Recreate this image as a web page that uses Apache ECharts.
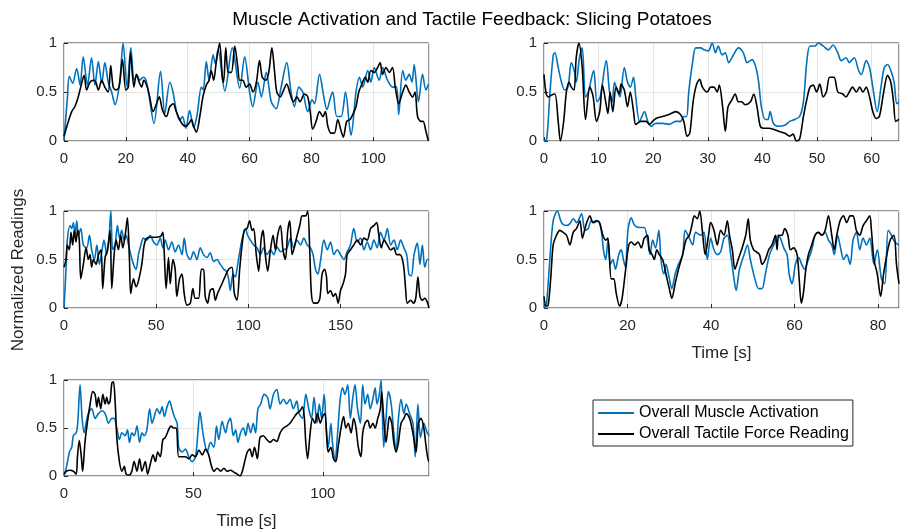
<!DOCTYPE html>
<html>
<head>
<meta charset="utf-8">
<script src="https://cdn.jsdelivr.net/npm/echarts@6/dist/echarts.min.js"></script>
<style>
  html, body { margin: 0; padding: 0; background: #fff; }
  #chart { width: 901px; height: 531px; }
</style>
</head>
<body>
<div id="chart"></div>
<script>
const muscleName = 'Overall Muscle Activation'
const forceName = 'Overall Tactile Force Reading'
const yTicks = [0, 0.5, 1]
const trialXMax = [118, 65, 198, 85, 141]
const trialXStep = [20, 10, 50, 20, 50]

// [time s, normalized value]
const trial1Muscle = [[0,0.01],[1.1,0.44],[1.7,0.66],[2.8,0.59],[4.1,0.74],[5.2,0.57],[6.2,0.86],[7.6,0.57],[8.9,0.85],[10,0.57],[11.1,0.81],[12.2,0.59],[13.2,0.8],[14.3,0.6],[15.4,0.5],[16.5,0.37],[18,0.6],[19.1,1.0],[20.4,0.55],[21.6,0.95],[22.7,0.62],[23.7,0.67],[24.5,0.62],[25.6,0.65],[26.5,0.62],[27.2,0.52],[29.1,0.18],[31.2,0.71],[32.6,0.28],[34.2,0.6],[35.3,0.49],[36.3,0.31],[37.4,0.21],[38.3,0.25],[39.4,0.13],[40.6,0.31],[41.9,0.14],[43,0.26],[44.4,0.55],[45,0.52],[46,0.81],[46.9,0.62],[48.2,0.88],[48.9,0.79],[49.8,0.93],[52,0.51],[54.4,0.95],[56.8,0.54],[58.4,0.86],[60,0.5],[61,0.35],[62.7,0.6],[63.8,0.45],[65.4,0.7],[67,0.4],[68.6,0.33],[70.2,0.55],[72,0.8],[73.4,0.5],[74.5,0.35],[75.9,0.55],[77.2,0.5],[78.8,0.3],[80.2,0.42],[81,0.38],[82.6,0.68],[84,0.45],[85,0.32],[86.2,0.45],[86.9,0.5],[88.2,0.25],[89.6,0.25],[91,0.5],[92.3,0.15],[92.8,0.06],[94.4,0.5],[95.5,0.65],[96.6,0.55],[98.2,0.72],[99.2,0.6],[100.3,0.75],[101.9,0.62],[103,0.75],[104.6,0.62],[106.2,0.55],[107.5,0.55],[108.2,0.27],[109.5,0.72],[110.5,0.62],[111.6,0.68],[112.5,0.6],[113.2,0.78],[114.6,0.4],[115.9,0.68],[117,0.52],[117.8,0.58]]
const trial1Force = [[0,0.05],[1.4,0.2],[2.5,0.3],[3.5,0.35],[4.6,0.45],[5.4,0.55],[6.5,0.67],[7.3,0.52],[8.4,0.6],[9.5,0.62],[10.3,0.6],[11.1,0.52],[12.2,0.62],[13.2,0.55],[14.3,0.5],[15.1,0.77],[15.9,0.55],[16.8,0.52],[17.8,0.55],[18.9,0.83],[20,0.52],[20.8,0.55],[21.5,0.9],[22.6,0.55],[23.4,0.68],[24.3,0.6],[25.1,0.55],[25.8,0.62],[26.9,0.55],[27.7,0.45],[28.8,0.3],[29.9,0.38],[30.8,0.45],[31.8,0.32],[33.1,0.25],[34.2,0.35],[35.3,0.38],[36.3,0.3],[37.4,0.22],[38.3,0.17],[39.4,0.15],[40.4,0.18],[41.2,0.22],[41.9,0.15],[42.8,0.09],[43.9,0.25],[44.9,0.45],[46,0.57],[46.9,0.62],[47.6,0.72],[48.4,0.62],[49.2,0.8],[50.3,1.0],[51.2,0.65],[51.6,0.6],[52.3,0.95],[53.1,0.7],[54.1,0.7],[55.2,0.97],[56.2,0.75],[56.8,0.62],[57.8,0.62],[58.9,0.55],[60,0.58],[61.1,0.5],[62.2,0.6],[63.2,0.82],[64.1,0.65],[65.2,0.62],[66.2,0.7],[67.2,0.95],[68.1,0.7],[68.8,0.5],[69.9,0.45],[71,0.52],[72,0.58],[73.1,0.48],[74.2,0.4],[75.3,0.45],[76.3,0.4],[77.7,0.48],[78.8,0.45],[79.6,0.3],[80.4,0.12],[81.5,0.2],[82.6,0.3],[83.7,0.25],[84.5,0.3],[85.3,0.15],[86.3,0.08],[87.4,0.08],[88.5,0.22],[89.6,0.1],[90.3,0.04],[91.4,0.2],[92.5,0.22],[93.5,0.28],[94.4,0.35],[95.3,0.5],[96.3,0.58],[97.4,0.65],[98.2,0.6],[99.2,0.72],[100.3,0.7],[101.4,0.75],[102.2,0.8],[103,0.68],[104.1,0.75],[105.2,0.7],[106.2,0.75],[107.1,0.55],[108.2,0.38],[109.5,0.5],[110.5,0.57],[111.6,0.5],[112.7,0.45],[113.5,0.5],[114.3,0.25],[115.4,0.2],[116.1,0.2],[117,0.1],[117.8,0.0]]

const trial2Muscle = [[0,0],[0.5,0.02],[1.1,0.5],[1.7,0.88],[2,0.9],[2.6,0.75],[3.2,0.6],[3.8,0.52],[4.4,0.55],[5,0.8],[5.6,0.7],[5.9,0.6],[6.5,0.85],[7,0.95],[7.6,0.45],[8.1,0.5],[9.1,0.72],[9.7,0.4],[10.3,0.45],[11.4,0.82],[12,0.5],[12.5,0.4],[12.9,0.6],[13.5,0.5],[13.9,0.45],[14.7,0.75],[15.3,0.6],[15.8,0.55],[16.4,0.65],[16.8,0.45],[17.5,0.2],[18.4,0.3],[19,0.2],[19.6,0.15],[20.5,0.18],[21.7,0.18],[22.9,0.17],[24.1,0.2],[25,0.2],[25.6,0.25],[26.1,0.25],[26.5,0.5],[27.2,0.8],[27.8,0.95],[28.7,0.95],[29.3,0.93],[30.1,0.92],[30.8,1.0],[31.4,0.9],[31.9,0.97],[32.6,0.88],[33.2,0.9],[33.8,0.8],[34.7,0.88],[35.6,0.95],[36.5,0.9],[37.2,0.8],[38.1,0.83],[38.8,0.75],[39.3,0.6],[39.8,0.35],[40.5,0.22],[41,0.22],[41.4,0.3],[42,0.18],[42.9,0.15],[44.1,0.16],[45,0.2],[45.9,0.22],[46.8,0.25],[47.5,0.4],[48.1,0.8],[48.7,0.97],[49.6,0.97],[50.2,1.0],[51.1,0.97],[52.1,0.93],[52.9,0.98],[53.8,0.9],[54.4,0.82],[55.3,0.85],[55.9,0.8],[56.8,0.85],[57.6,0.72],[58.1,0.68],[59,0.82],[59.6,0.75],[60.2,0.55],[61,0.3],[61.7,0.55],[62.3,0.75],[62.9,0.78],[63.5,0.72],[64.1,0.6],[64.6,0.38],[65,0.4]]
const trial2Force = [[0,0.68],[0.4,0.48],[0.8,0.45],[1.4,0.47],[2,0.48],[2.6,0.2],[3,0.0],[3.6,0.2],[4.1,0.5],[4.6,0.6],[5,0.55],[5.5,0.52],[5.9,0.85],[6.4,1.0],[7,0.75],[7.6,0.22],[8.4,0.55],[9,0.45],[9.6,0.2],[10.2,0.3],[10.7,0.57],[11.3,0.4],[11.7,0.28],[12.1,0.5],[12.6,0.3],[13.2,0.55],[13.8,0.48],[14.1,0.58],[14.7,0.52],[15.3,0.35],[15.8,0.5],[16.4,0.3],[16.8,0.17],[17.7,0.2],[18.7,0.2],[19.3,0.17],[19.9,0.2],[20.5,0.23],[21.7,0.25],[22.9,0.27],[24.1,0.3],[25,0.27],[25.6,0.2],[26.2,0.05],[26.7,0.08],[27.3,0.4],[27.9,0.57],[28.5,0.63],[29,0.55],[29.9,0.5],[30.5,0.55],[31.1,0.55],[31.7,0.5],[32.1,0.57],[32.7,0.35],[33.2,0.1],[33.7,0.35],[34.4,0.42],[35,0.48],[35.6,0.4],[36.2,0.4],[36.8,0.37],[37.8,0.4],[38.4,0.48],[39,0.35],[39.6,0.15],[40.2,0.13],[41.1,0.13],[42,0.12],[42.9,0.1],[44.1,0.08],[45,0.05],[45.6,0.07],[46.2,0.0],[46.8,0.02],[47.5,0.25],[48.1,0.42],[48.7,0.55],[49.3,0.57],[49.9,0.5],[50.5,0.58],[51.1,0.45],[51.7,0.5],[52.3,0.65],[53.1,0.65],[53.8,0.5],[54.7,0.48],[55.3,0.45],[55.9,0.5],[56.5,0.55],[57.2,0.5],[57.8,0.55],[58.4,0.5],[59,0.55],[59.6,0.45],[60.2,0.3],[60.8,0.23],[61.4,0.25],[62.2,0.5],[62.9,0.67],[63.5,0.6],[64,0.4],[64.4,0.2],[65,0.22]]

const trial3Muscle = [[0,0],[1.1,0.4],[1.8,0.7],[3.3,0.85],[4.2,0.82],[5.1,0.88],[6,0.75],[6.9,0.9],[7.8,0.75],[9.1,0.82],[10.5,0.65],[12.3,0.62],[13.8,0.75],[15,0.6],[16.5,0.5],[17.8,0.65],[19.2,0.45],[20.5,0.58],[21.7,0.7],[23.2,0.55],[24.5,0.75],[25.4,1.0],[26.4,0.6],[27.7,0.65],[29,0.85],[30.1,0.72],[31.3,0.8],[32.6,0.7],[33.7,0.75],[35,0.65],[36.2,0.55],[37.7,0.45],[39.1,0.4],[40.4,0.55],[41.7,0.65],[43.1,0.72],[44.9,0.7],[46.7,0.75],[48.6,0.68],[50.4,0.65],[52.2,0.72],[53.6,0.62],[54.9,0.7],[56.7,0.6],[58.5,0.68],[60.3,0.58],[62.1,0.65],[64,0.55],[65.2,0.72],[66.7,0.55],[68.5,0.5],[70.3,0.58],[72.1,0.5],[73.9,0.62],[75.7,0.55],[77.5,0.52],[79.3,0.57],[81.2,0.48],[83,0.5],[84.8,0.45],[86.6,0.4],[88,0.38],[89.3,0.3],[90.2,0.18],[91.7,0.35],[92.9,0.32],[93.8,0.4],[95.7,0.62],[97.1,0.75],[98.4,0.82],[99.6,0.75],[101.1,0.7],[102.9,0.65],[104.7,0.62],[106.5,0.55],[108.3,0.62],[110.1,0.55],[112,0.6],[113.8,0.55],[115.6,0.63],[117.4,0.58],[119.2,0.6],[121,0.62],[122.8,0.72],[124.6,0.62],[126.4,0.7],[128.3,0.65],[130.1,0.72],[131.9,0.65],[133.7,0.62],[135.1,0.55],[136.4,0.4],[137.7,0.35],[139.1,0.48],[141,0.7],[142.8,0.6],[144.6,0.68],[146.4,0.55],[148.2,0.6],[150,0.55],[151.8,0.5],[153.6,0.58],[155.4,0.65],[157.2,0.82],[159.1,0.68],[160.9,0.72],[162.7,0.6],[164.5,0.68],[166.3,0.6],[168.1,0.7],[169.9,0.62],[171.7,0.78],[173.6,0.7],[175.4,0.82],[177.2,0.65],[179,0.7],[180.8,0.6],[182.6,0.7],[184.4,0.62],[185.9,0.55],[187.1,0.35],[188.4,0.33],[189.9,0.55],[191.7,0.67],[193.1,0.45],[194.4,0.65],[195.7,0.42],[197.1,0.5],[198,0.5]]
const trial3Force = [[0,0.42],[1.1,0.5],[1.8,0.65],[2.9,0.6],[3.8,0.78],[4.7,0.65],[5.6,0.8],[6.5,0.68],[7.4,0.8],[8.3,0.7],[9.1,0.3],[10.5,0.45],[12,0.62],[13.2,0.5],[14.1,0.55],[15,0.42],[15.9,0.5],[17.4,0.45],[18.7,0.55],[20.1,0.6],[21,0.2],[22.3,0.52],[23.6,0.6],[25,0.8],[25.9,0.2],[27.2,0.55],[28.3,0.7],[29.5,0.6],[30.8,0.75],[31.9,0.62],[33.2,0.75],[34.4,0.93],[35.5,0.5],[36.2,0.15],[37.7,0.3],[39.1,0.22],[40.4,0.28],[42.2,0.45],[43.5,0.65],[44.9,0.72],[47.6,0.73],[50.4,0.73],[52.5,0.74],[53.6,0.78],[54.3,0.6],[55.4,0.2],[56.7,0.52],[57.6,0.25],[59.1,0.5],[60.3,0.4],[61.2,0.12],[62.7,0.3],[64,0.35],[65.2,0.15],[66.7,0.03],[68.5,0.05],[69.9,0.2],[71.2,0.1],[73,0.1],[74.5,0.4],[75.7,0.4],[76.6,0.12],[77.9,0.05],[79.3,0.18],[80.8,0.2],[82.1,0.08],[83.3,0.15],[85.7,0.25],[87.5,0.33],[89.3,0.4],[91.1,0.42],[92.4,0.15],[93.8,0.08],[95.3,0.4],[96.6,0.65],[97.8,0.8],[99.3,0.82],[100.7,0.9],[102,0.8],[102.9,0.82],[104.3,0.55],[105.6,0.38],[106.9,0.7],[108,0.8],[109.2,0.55],[110.5,0.38],[112,0.6],[113.4,0.75],[114.7,0.6],[115.9,0.75],[117.4,0.85],[118.8,0.6],[120.1,0.5],[121.4,0.8],[122.5,0.9],[123.7,0.55],[124.6,0.6],[126.1,0.72],[127.9,0.85],[129.2,0.95],[131,0.95],[132.2,1.0],[133.3,0.6],[134.2,0.15],[135.5,0.05],[137.3,0.05],[138.8,0.1],[140,0.35],[141.3,0.4],[142.4,0.32],[143.1,0.15],[144.6,0.18],[146,0.12],[147.3,0.15],[148.7,0.05],[150,0.18],[151.4,0.25],[152.7,0.35],[153.6,0.55],[155.4,0.6],[157.2,0.65],[159.1,0.7],[160.9,0.65],[162.7,0.72],[164.5,0.7],[166.3,0.82],[168.1,0.85],[169.6,0.88],[170.8,0.75],[172.1,0.62],[173.6,0.7],[175.4,0.65],[177.2,0.6],[179,0.62],[180.4,0.55],[182.2,0.55],[184.1,0.45],[185.3,0.2],[186.2,0.05],[188.1,0.08],[189.5,0.05],[190.8,0.1],[192,0.32],[193.1,0.12],[194.4,0.08],[195.7,0.1],[197.1,0.06],[198,0.0]]

const trial4Muscle = [[0,0],[0.6,0.05],[1.4,0.5],[2.2,0.9],[3.2,1.0],[4.2,0.88],[5.4,0.85],[6.2,0.87],[7,0.92],[7.8,0.88],[9,0.97],[9.8,0.8],[10.6,0.82],[11.3,0.9],[12.1,0.88],[12.9,0.9],[13.7,0.8],[14.3,0.58],[14.8,0.5],[15.3,0.7],[15.9,0.45],[16.5,0.5],[17.1,0.4],[17.9,0.55],[18.5,0.6],[19,0.5],[19.5,0.42],[20.1,0.8],[20.9,0.93],[21.7,0.85],[22.9,0.83],[24,0.83],[24.8,0.7],[25.4,0.55],[26,0.7],[26.7,0.62],[27.5,0.8],[28,0.5],[28.7,0.35],[29.2,0.45],[29.8,0.35],[30.6,0.2],[31.4,0.35],[32.2,0.45],[33.2,0.55],[33.8,0.8],[34.8,0.72],[35.6,0.65],[36.3,0.78],[37.5,0.75],[38.3,0.78],[39.1,0.5],[39.9,0.72],[40.7,0.6],[41.5,0.55],[42.3,0.58],[43.1,0.72],[43.9,0.75],[44.7,0.55],[45.5,0.3],[46,0.18],[46.8,0.4],[47.9,0.55],[48.7,0.65],[49.4,0.5],[50.5,0.3],[51.4,0.2],[52.2,0.2],[53,0.35],[54,0.55],[55,0.65],[56,0.75],[56.6,0.72],[57.4,0.62],[58.2,0.55],[58.7,0.35],[59.4,0.25],[60.2,0.45],[61,0.52],[61.7,0.45],[62.4,0.4],[63.3,0.5],[64.1,0.6],[64.9,0.75],[65.7,0.78],[66.5,0.75],[67.3,0.78],[68.1,0.7],[68.9,0.65],[69.5,0.55],[70.3,0.75],[71.1,0.6],[71.7,0.5],[72.5,0.55],[73.3,0.45],[74,0.7],[74.8,0.78],[75.6,0.6],[76.4,0.72],[77.2,0.65],[78,0.72],[79,0.45],[79.8,0.6],[80.8,0.3],[81.6,0.25],[82.4,0.8],[83.2,0.75],[84,0.68],[85,0.65]]
const trial4Force = [[0,0.12],[0.5,0.02],[1,0.03],[1.6,0.3],[2.2,0.65],[3,0.75],[3.8,0.8],[4.6,0.78],[5.4,0.75],[6.2,0.65],[7,0.78],[7.8,0.82],[8.6,0.9],[9.2,0.72],[10,0.85],[11,0.95],[11.7,0.88],[12.5,0.9],[13.3,0.88],[14.1,0.75],[14.8,0.7],[15.3,0.72],[16.1,0.3],[16.7,0.3],[17.3,0.15],[18.1,0.02],[18.7,0.1],[19.5,0.38],[20.3,0.65],[20.9,0.68],[21.7,0.65],[22.5,0.68],[23.3,0.62],[24,0.72],[24.8,0.75],[25.2,0.6],[25.9,0.55],[26.4,0.5],[27,0.6],[27.6,0.55],[28.4,0.5],[29.2,0.35],[30,0.2],[30.6,0.1],[31.4,0.25],[32.2,0.4],[33.2,0.55],[34,0.7],[34.8,0.75],[35.4,0.85],[36,0.95],[36.7,0.92],[37.3,1.0],[37.9,0.8],[38.6,0.55],[39.4,0.75],[39.9,0.88],[40.7,0.8],[41.5,0.65],[42.3,0.8],[43.1,0.75],[43.9,0.9],[44.4,0.75],[45.1,0.6],[45.7,0.4],[46.5,0.5],[47.3,0.6],[48.3,0.75],[48.9,0.92],[49.4,0.7],[50.2,0.6],[50.8,0.58],[51.6,0.55],[52.2,0.45],[53,0.5],[53.8,0.6],[54.6,0.65],[55.4,0.75],[55.8,0.6],[56.2,0.75],[57,0.75],[57.6,0.82],[58.4,0.75],[59,0.6],[59.8,0.62],[60.6,0.55],[61.1,0.3],[61.6,0.05],[62.1,0.15],[62.7,0.4],[63.3,0.55],[64.1,0.65],[64.9,0.75],[65.7,0.78],[66.5,0.75],[67.3,0.8],[68.1,0.95],[68.9,0.75],[69.5,0.6],[70.1,0.75],[70.9,0.9],[71.7,0.95],[72.5,0.88],[73.3,0.95],[74,0.95],[74.8,0.8],[75.6,0.75],[76.4,0.85],[77.2,0.9],[78,0.95],[78.4,0.8],[79,0.5],[79.8,0.35],[80.6,0.12],[81.3,0.35],[82.1,0.55],[82.9,0.7],[83.8,0.75],[84.4,0.45],[85,0.25]]

const trial5Muscle = [[0,0],[1,0.1],[2.1,0.25],[3,0.3],[3.6,0.42],[4.7,0.45],[5.3,0.55],[6.2,0.95],[7,0.6],[7.8,0.45],[8.5,0.55],[9.4,0.65],[10.7,0.7],[12,0.6],[13.3,0.65],[14.6,0.68],[15.9,0.65],[17.2,0.55],[18.5,0.6],[19.4,0.6],[20.4,0.5],[21.4,0.38],[22.4,0.45],[23.6,0.42],[24.5,0.48],[25.3,0.35],[26.2,0.45],[27.1,0.42],[28.2,0.52],[29.2,0.35],[30.1,0.45],[31,0.42],[32,0.48],[33.1,0.7],[34,0.55],[34.9,0.62],[35.9,0.7],[37,0.65],[37.9,0.72],[38.8,0.62],[39.8,0.72],[40.8,0.78],[41.7,0.7],[42.6,0.62],[43.7,0.55],[44.3,0.3],[45.6,0.25],[46.9,0.28],[48.2,0.2],[49.5,0.15],[50.8,0.2],[51.7,0.45],[52.5,0.67],[53.4,0.5],[54.3,0.35],[55.3,0.25],[56.6,0.35],[57.9,0.3],[58.9,0.52],[59.8,0.38],[61.1,0.57],[62.4,0.45],[63.3,0.55],[64.3,0.6],[65.4,0.42],[66.3,0.48],[67.2,0.35],[68.2,0.45],[69.3,0.5],[70.2,0.42],[71.1,0.55],[72.1,0.45],[73.1,0.55],[74,0.45],[74.9,0.7],[76,0.75],[77.3,0.85],[78.6,0.82],[79.6,0.7],[80.9,0.85],[82.2,0.9],[83.5,0.75],[84.8,0.8],[86,0.75],[87.3,0.8],[88.6,0.7],[89.9,0.78],[90.8,0.65],[92.1,0.6],[93.4,0.85],[94.7,0.68],[95.6,0.6],[96.6,0.82],[97.7,0.55],[98.6,0.75],[99.5,0.6],[100.5,0.85],[101.3,0.5],[102.1,0.3],[103.1,0.55],[103.7,0.35],[104.7,0.15],[105.7,0.45],[106.7,0.8],[107.6,0.92],[108.5,0.85],[109.6,0.95],[110.6,0.6],[111.5,0.8],[112.4,0.95],[113.4,0.7],[114.5,0.55],[115.4,0.95],[116.3,0.75],[117.3,0.85],[118.3,0.7],[119.3,0.8],[120.2,0.92],[120.9,0.75],[121.8,0.85],[122.5,1.0],[123.5,0.3],[124.4,0.6],[125.3,0.88],[126.4,0.75],[127.4,0.45],[128.3,0.25],[129.2,0.6],[130.2,0.8],[131.3,0.65],[132.2,0.75],[133.5,0.65],[134.8,0.55],[135.7,0.2],[136.7,0.75],[137.7,0.4],[139,0.55],[140.3,0.45],[141,0.42]]
const trial5Force = [[0,0.02],[1,0.05],[2.3,0.06],[3.6,0.05],[4.7,0.02],[5.2,0.2],[5.9,0.37],[6.7,0.2],[7.2,0.05],[8.1,0.35],[9,0.55],[10.1,0.75],[11.1,0.88],[12,0.85],[12.7,0.72],[13.3,0.82],[14.2,0.7],[15,0.85],[15.9,0.75],[16.5,0.82],[17.2,0.75],[17.8,0.78],[18.5,0.97],[19.1,0.98],[19.8,0.75],[20.4,0.4],[21.4,0.15],[22.4,0.05],[23.3,0.1],[24,0.02],[25.3,0.01],[26.2,0.05],[27.1,0.15],[28.2,0.05],[29.2,0.18],[30.1,0.05],[31.4,0.15],[32.3,0.02],[33.3,0.12],[34.4,0.22],[35.3,0.15],[36.2,0.25],[37.2,0.2],[38.2,0.38],[39.1,0.4],[40.4,0.48],[41.3,0.52],[42.4,0.5],[43.4,0.5],[44.3,0.2],[45.6,0.2],[46.9,0.2],[48.2,0.18],[49.5,0.22],[50.8,0.2],[52.1,0.27],[53.4,0.22],[54.7,0.28],[55.9,0.22],[56.8,0.12],[57.9,0.05],[59.2,0.08],[60.5,0.05],[61.8,0.08],[63,0.05],[64.3,0.06],[65.6,0.04],[66.9,0.02],[68,0.0],[68.9,0.05],[69.8,0.15],[70.8,0.25],[71.8,0.28],[72.7,0.2],[73.6,0.3],[74.7,0.18],[75.7,0.4],[77,0.42],[78.3,0.38],[79.6,0.35],[80.9,0.38],[82.2,0.36],[83.5,0.45],[84.8,0.5],[86,0.52],[87.3,0.55],[88.6,0.6],[89.9,0.65],[91.2,0.68],[92.1,0.72],[92.8,0.62],[93.4,0.35],[94.1,0.18],[95.1,0.45],[96,0.6],[96.9,0.55],[97.9,0.65],[99,0.55],[99.9,0.62],[100.8,0.65],[101.6,0.35],[102.1,0.25],[103.1,0.3],[104.1,0.18],[105,0.15],[105.9,0.3],[107,0.5],[108,0.62],[108.9,0.5],[109.8,0.55],[110.9,0.45],[111.9,0.6],[112.8,0.5],[113.7,0.3],[114.7,0.2],[115.4,0.45],[116.3,0.55],[117.3,0.58],[118.3,0.5],[119.3,0.55],[120.2,0.5],[121.2,0.6],[122.2,0.7],[122.7,0.88],[123.5,0.6],[124.4,0.35],[125.1,0.5],[125.7,0.62],[126.6,0.55],[127.4,0.35],[128.3,0.25],[129.2,0.35],[130.2,0.55],[131.3,0.6],[132.2,0.65],[133.5,0.6],[134.4,0.5],[135.1,0.4],[136,0.25],[136.9,0.55],[137.9,0.6],[139,0.5],[139.9,0.3],[140.9,0.15],[141,0.15]]

const trialMuscle = [trial1Muscle, trial2Muscle, trial3Muscle, trial4Muscle, trial5Muscle]
const trialForce = [trial1Force, trial2Force, trial3Force, trial4Force, trial5Force]

const font = '"Liberation Sans", Arial, Helvetica, sans-serif'
const ink = '#262626'
const boxes = [
  { left: 64, top: 43, width: 365, height: 98 },
  { left: 544, top: 43, width: 355, height: 98 },
  { left: 64, top: 211, width: 365, height: 97 },
  { left: 544, top: 211, width: 355, height: 97 },
  { left: 64, top: 380, width: 365, height: 97 },
]
const withTimeLabel = [3, 4]

const chart = echarts.init(document.getElementById('chart'), null, { renderer: 'canvas' })

const grid = boxes.map((b) => ({
  ...b,
  show: true,
  borderColor: ink,
  borderWidth: 1,
  backgroundColor: '#fff',
  containLabel: false,
}))

const xAxis = boxes.map((b, i) => ({
  type: 'value',
  gridIndex: i,
  min: 0,
  max: trialXMax[i],
  interval: trialXStep[i],
  name: withTimeLabel.includes(i) ? 'Time [s]' : '',
  nameLocation: 'middle',
  nameGap: 37,
  nameTextStyle: { fontFamily: font, fontSize: 17, color: ink },
  axisLine: { show: false },
  axisTick: { show: true, inside: true, length: 4, lineStyle: { color: ink } },
  axisLabel: { fontFamily: font, fontSize: 15, color: ink, margin: 10, showMaxLabel: false },
  splitLine: { show: true, lineStyle: { color: '#e4e4e4', width: 1 } },
}))

const yAxis = boxes.map((b, i) => ({
  type: 'value',
  gridIndex: i,
  min: yTicks[0],
  max: yTicks[yTicks.length - 1],
  interval: yTicks[1] - yTicks[0],
  axisLine: { show: false },
  axisTick: { show: true, inside: true, length: 4, lineStyle: { color: ink } },
  axisLabel: { fontFamily: font, fontSize: 15, color: ink, margin: 7 },
  splitLine: { show: true, lineStyle: { color: '#e4e4e4', width: 1 } },
}))

const series = []
boxes.forEach((b, i) => {
  series.push({
    name: muscleName,
    type: 'line',
    xAxisIndex: i,
    yAxisIndex: i,
    data: trialMuscle[i],
    symbol: 'none',
    smooth: 0.3,
    lineStyle: { color: '#0072BD', width: 1.6 },
    itemStyle: { color: '#0072BD' },
    animation: false,
  })
  series.push({
    name: forceName,
    type: 'line',
    xAxisIndex: i,
    yAxisIndex: i,
    data: trialForce[i],
    symbol: 'none',
    smooth: 0.3,
    lineStyle: { color: '#000000', width: 1.6 },
    itemStyle: { color: '#000000' },
    animation: false,
  })
})

chart.setOption({
  backgroundColor: '#fff',
  animation: false,
  title: {
    text: 'Muscle Activation and Tactile Feedback: Slicing Potatoes',
    left: 467,
    top: 5,
    textAlign: 'center',
    textStyle: { fontFamily: font, fontSize: 19, fontWeight: 'normal', color: '#000' },
  },
  legend: {
    data: [muscleName, forceName],
    orient: 'vertical',
    left: 593,
    top: 400,
    padding: [5, 4, 4, 4],
    itemWidth: 36,
    itemHeight: 14,
    itemGap: 5,
    itemStyle: { opacity: 0 },
    borderColor: ink,
    borderWidth: 1,
    borderRadius: 0,
    backgroundColor: '#fff',
    textStyle: { fontFamily: font, fontSize: 16, color: '#000' },
  },
  graphic: [
    {
      type: 'text',
      x: 18,
      y: 270,
      rotation: Math.PI / 2,
      style: {
        text: 'Normalized Readings',
        fontFamily: font,
        fontSize: 17,
        fill: ink,
        align: 'center',
        verticalAlign: 'middle',
      },
    },
  ],
  grid,
  xAxis,
  yAxis,
  series,
})
</script>
</body>
</html>
